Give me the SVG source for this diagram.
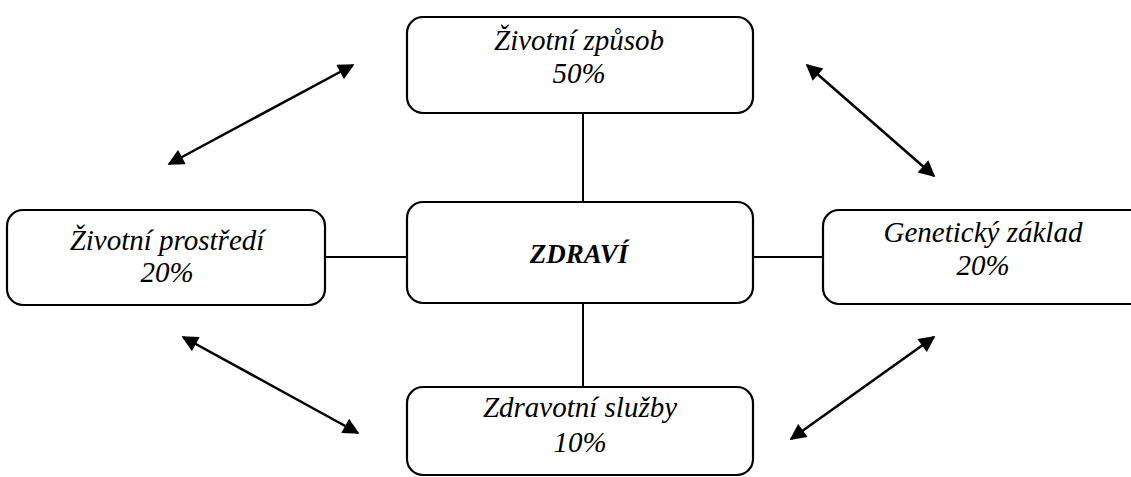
<svg xmlns="http://www.w3.org/2000/svg" width="1131" height="477" viewBox="0 0 1131 477">
  <style>
    .box { fill: #fff; stroke: #000; stroke-width: 2.2; }
    .link { stroke: #000; stroke-width: 2; fill: none; }
    .arrow { stroke: #000; stroke-width: 2.5; fill: none; marker-start: url(#head); marker-end: url(#head); }
    text { font-family: 'Liberation Serif', 'Times New Roman', serif; font-style: italic; font-size: 29px; text-anchor: middle; fill: #000; }
    .title { font-weight: bold; font-size: 27px; }
  </style>
  <defs>
    <marker id="head" viewBox="0 0 10 10" refX="9" refY="5" markerWidth="7.5" markerHeight="6.5" markerUnits="strokeWidth" orient="auto-start-reverse">
      <path d="M0,0 L10,5 L0,10 Z" fill="#000"/>
    </marker>
  </defs>

  <rect width="1131" height="477" fill="#fff"/>

  <!-- plain links to the centre, double-headed arrows between outer nodes -->
  <g id="connectors">
    <line class="link" x1="583" y1="113" x2="583" y2="202"/>
    <line class="link" x1="583" y1="303" x2="583" y2="387"/>
    <line class="link" x1="325" y1="257" x2="407" y2="257"/>
    <line class="link" x1="753" y1="257" x2="823" y2="257"/>
    <line class="arrow" x1="169" y1="164" x2="353" y2="65"/>
    <line class="arrow" x1="807" y1="65" x2="934" y2="176"/>
    <line class="arrow" x1="183" y1="337" x2="358" y2="433"/>
    <line class="arrow" x1="934" y1="337" x2="791" y2="439"/>
  </g>

  <g id="zivotni-zpusob">
    <rect class="box" x="407" y="17" width="346" height="96" rx="16"/>
    <text x="579" y="50">Životní způsob</text>
    <text x="579" y="83">50%</text>
  </g>

  <g id="zivotni-prostredi">
    <rect class="box" x="7" y="210" width="318" height="95" rx="16"/>
    <text x="167" y="250">Životní prostředí</text>
    <text x="167" y="282">20%</text>
  </g>

  <g id="zdravi">
    <rect class="box" x="407" y="202" width="346" height="101" rx="16"/>
    <text class="title" x="579" y="263">ZDRAVÍ</text>
  </g>

  <g id="geneticky-zaklad">
    <rect class="box" x="823" y="210" width="330" height="94" rx="16"/>
    <text x="983" y="242">Genetický základ</text>
    <text x="983" y="275">20%</text>
  </g>

  <g id="zdravotni-sluzby">
    <rect class="box" x="407" y="387" width="346" height="88" rx="16"/>
    <text x="580" y="417">Zdravotní služby</text>
    <text x="580" y="452">10%</text>
  </g>
</svg>
